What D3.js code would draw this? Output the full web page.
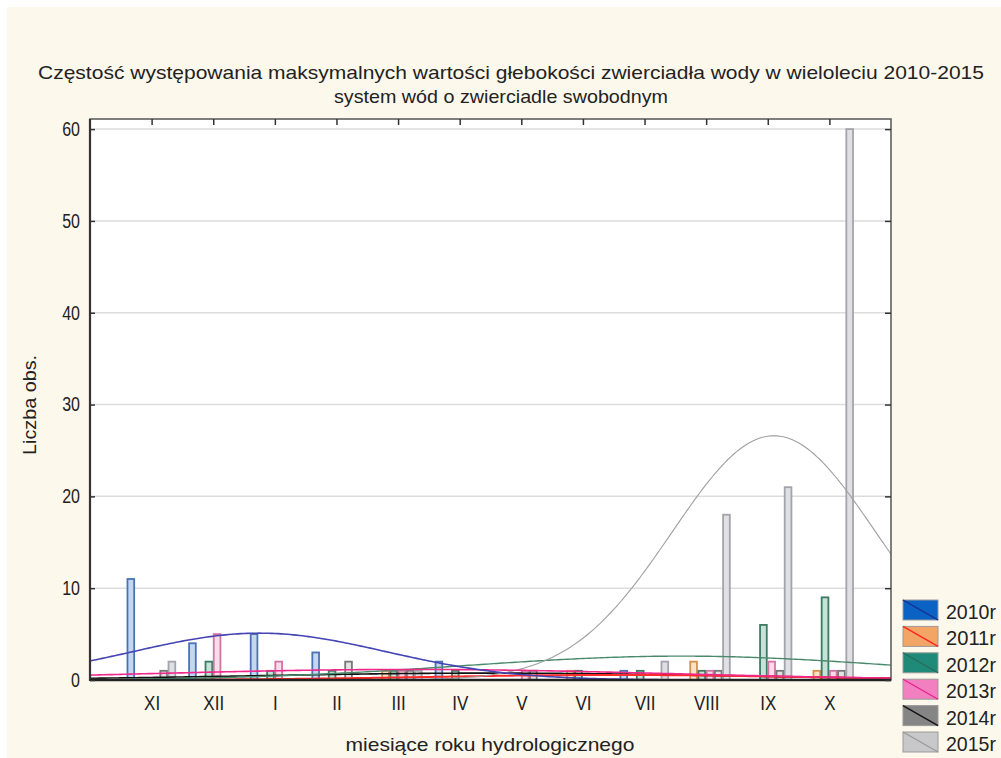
<!DOCTYPE html>
<html>
<head>
<meta charset="utf-8">
<script src="https://cdn.jsdelivr.net/npm/d3@7"></script>
<style>
  body { margin: 0; background: #fff; }
  svg text { font-family: "Liberation Sans Narrow", "Arial Narrow", "Liberation Sans", sans-serif; fill: #222; }
</style>
</head>
<body>
<svg width="1001" height="758"></svg>
<script>
// months of the hydrological year
const months = ['XI', 'XII', 'I', 'II', 'III', 'IV', 'V', 'VI', 'VII', 'VIII', 'IX', 'X'];
const years = ['2010r', '2011r', '2012r', '2013r', '2014r', '2015r'];

// counts per month
const counts2010 = [11, 4, 5, 3, 0, 2, 0, 0, 1, 0, 0, 0];
const counts2011 = [0, 0, 0, 0, 1, 0, 0, 1, 0, 2, 0, 1];
const counts2012 = [0, 2, 1, 1, 1, 1, 0, 1, 1, 1, 6, 9];
const counts2013 = [0, 5, 2, 0, 1, 0, 1, 0, 0, 1, 2, 1];
const counts2014 = [1, 0, 0, 2, 1, 0, 1, 0, 0, 1, 1, 1];
const counts2015 = [2, 0, 0, 0, 1, 0, 0, 0, 2, 18, 21, 60];

// fitted normal curves: centre (month no., XI = 1), spread, peak height
const fitMean = [2.75, 8.5, 9.6, 5.2, 6.5, 11.1];
const fitSd = [2.05, 3.0, 3.5, 4.2, 3.9, 1.65];
const fitPeak = [5.1, 0.55, 2.6, 1.15, 0.75, 26.6];

const yTicks = [0, 10, 20, 30, 40, 50, 60];

const barFill = ['#c5d6f0', '#fbe3c9', '#c6e2d9', '#fadcea', '#e2e2e2', '#dfdfe4'];
const barStroke = ['#4b72b6', '#d6904e', '#3f7a62', '#d375a3', '#777777', '#a4a4ac'];
const curveColor = ['#4444b4', '#ff2a2a', '#4a8a6c', '#f0288c', '#111111', '#a0a0a0'];
const curveWidth = [1.6, 2, 1.4, 1.6, 1.6, 1.1];
const legFill = ['#0a62c4', '#f3a566', '#1f8a78', '#f27fc0', '#858585', '#c8c8ca'];
const legLine = ['#1a2a8a', '#ff2020', '#2c6a5a', '#e8208c', '#111111', '#9a9a9a'];

const series = [counts2010, counts2011, counts2012, counts2013, counts2014, counts2015];

const svg = d3.select('svg');
const width = +svg.attr('width');
const height = +svg.attr('height');

// squeeze texts horizontally (no narrow font installed)
const condense = (sel, f) => sel.each(function () {
  const w = this.getComputedTextLength();
  d3.select(this).attr('textLength', w * f).attr('lengthAdjust', 'spacingAndGlyphs');
});

const plot = { left: 90, right: 891, top: 119, bottom: 680 };

svg.append('rect')
  .attr('x', 7).attr('y', 7)
  .attr('width', width - 7).attr('height', height - 7)
  .attr('fill', '#fdf8ec');

const xScale = d3.scaleLinear().domain([0, 13]).range([plot.left, plot.right]);
const yScale = d3.scaleLinear().domain([0, 61.1]).range([plot.bottom, plot.top]);

svg.append('rect')
  .attr('x', plot.left).attr('y', plot.top)
  .attr('width', plot.right - plot.left).attr('height', plot.bottom - plot.top)
  .attr('fill', '#fff');

// grid
svg.append('g').selectAll('line').data(yTicks.filter(d => d > 0))
  .enter().append('line')
  .attr('x1', plot.left).attr('x2', plot.right)
  .attr('y1', d => yScale(d)).attr('y2', d => yScale(d))
  .attr('stroke', '#dddddd').attr('stroke-width', 1.5);

// bars
const slot = 0.8 / 6;
svg.append('clipPath').attr('id', 'clip')
  .append('rect')
  .attr('x', plot.left).attr('y', plot.top)
  .attr('width', plot.right - plot.left).attr('height', plot.bottom - plot.top);

const barG = svg.append('g');
series.forEach((vals, k) => {
  barG.append('g').selectAll('rect')
    .data(vals.map((v, i) => ({ v, m: i + 1 })).filter(d => d.v > 0))
    .enter().append('rect')
    .attr('x', d => xScale(d.m - 0.4 + k * slot) + 0.5)
    .attr('width', xScale(slot) - xScale(0) - 1.5)
    .attr('y', d => yScale(d.v))
    .attr('height', d => yScale(0) - yScale(d.v))
    .attr('fill', barFill[k])
    .attr('stroke', barStroke[k])
    .attr('stroke-width', 1.8);
});

// fitted curves
const xs = d3.range(0, 13.001, 0.05);
const line = d3.line()
  .x(d => xScale(d[0]))
  .y(d => yScale(d[1]));
const curveG = svg.append('g').attr('clip-path', 'url(#clip)');
[4, 1, 2, 5, 3, 0].forEach(k => {
  const pts = xs.map(m => [m, fitPeak[k] * Math.exp(-((m - fitMean[k]) ** 2) / (2 * fitSd[k] ** 2))]);
  curveG.append('path')
    .attr('d', line(pts))
    .attr('fill', 'none')
    .attr('stroke', curveColor[k])
    .attr('stroke-width', curveWidth[k]);
});

// frame
svg.append('rect')
  .attr('x', plot.left).attr('y', plot.top)
  .attr('width', plot.right - plot.left).attr('height', plot.bottom - plot.top)
  .attr('fill', 'none').attr('stroke', '#555').attr('stroke-width', 1.5);
svg.append('line')
  .attr('x1', plot.left).attr('x2', plot.left)
  .attr('y1', plot.top).attr('y2', plot.bottom + 1)
  .attr('stroke', '#333').attr('stroke-width', 2.2);
svg.append('line')
  .attr('x1', plot.left).attr('x2', plot.right)
  .attr('y1', plot.bottom).attr('y2', plot.bottom)
  .attr('stroke', '#222').attr('stroke-width', 2.5);

// y axis
const yAxis = d3.axisLeft(yScale).tickValues(yTicks).tickSize(-5).tickPadding(10);
const yG = svg.append('g')
  .attr('transform', `translate(${plot.left},0)`)
  .call(yAxis);
yG.select('.domain').remove();
yG.selectAll('.tick line').attr('stroke', '#333').attr('stroke-width', 1.5);
yG.selectAll('.tick text').attr('font-size', 20).attr('fill', '#222')
  .call(condense, 0.8);

// right-side ticks
const yR = svg.append('g')
  .attr('transform', `translate(${plot.right},0)`)
  .call(d3.axisRight(yScale).tickValues(yTicks).tickSize(-6).tickFormat(''));
yR.select('.domain').remove();
yR.selectAll('.tick line').attr('stroke', '#333').attr('stroke-width', 1.5);

// x axis
const monthNo = months.map((d, i) => i + 1);
const xAxis = d3.axisBottom(xScale).tickValues(monthNo)
  .tickFormat((d, i) => months[i]).tickSize(0).tickPadding(16);
const xG = svg.append('g')
  .attr('transform', `translate(0,${plot.bottom})`)
  .call(xAxis);
xG.select('.domain').remove();
xG.selectAll('.tick text').attr('font-size', 20).attr('fill', '#222')
  .call(condense, 0.85);

const xTop = svg.append('g')
  .attr('transform', `translate(0,${plot.top})`)
  .call(d3.axisTop(xScale).tickValues(monthNo).tickSize(-6).tickFormat(''));
xTop.select('.domain').remove();
xTop.selectAll('.tick line').attr('stroke', '#333').attr('stroke-width', 1.5);

// titles
svg.append('text')
  .attr('x', 511).attr('y', 79)
  .attr('text-anchor', 'middle')
  .attr('font-size', 19)
  .attr('textLength', 946).attr('lengthAdjust', 'spacingAndGlyphs')
  .text('Częstość występowania maksymalnych wartości głebokości zwierciadła wody w wieloleciu 2010-2015');
svg.append('text')
  .attr('x', 501).attr('y', 103)
  .attr('text-anchor', 'middle')
  .attr('font-size', 19)
  .attr('textLength', 334).attr('lengthAdjust', 'spacingAndGlyphs')
  .text('system wód o zwierciadle swobodnym');

svg.append('text')
  .attr('transform', 'translate(36,405) rotate(-90)')
  .attr('text-anchor', 'middle')
  .attr('font-size', 19)
  .attr('textLength', 100).attr('lengthAdjust', 'spacingAndGlyphs')
  .text('Liczba obs.');

svg.append('text')
  .attr('x', 490).attr('y', 751)
  .attr('text-anchor', 'middle')
  .attr('font-size', 19)
  .attr('textLength', 289).attr('lengthAdjust', 'spacingAndGlyphs')
  .text('miesiące roku hydrologicznego');

// legend
const leg = svg.append('g').selectAll('g').data(years)
  .enter().append('g')
  .attr('transform', (d, i) => `translate(903,${600 + i * 26.4})`);
leg.append('rect')
  .attr('width', 35).attr('height', 20)
  .attr('fill', (d, i) => legFill[i])
  .attr('stroke', '#9a9a9a').attr('stroke-width', 1);
leg.append('line')
  .attr('x1', 0).attr('y1', 0).attr('x2', 35).attr('y2', 20)
  .attr('stroke', (d, i) => legLine[i]).attr('stroke-width', 1.3);
leg.append('text')
  .attr('x', 43).attr('y', 19)
  .attr('font-size', 21)
  .attr('textLength', 50).attr('lengthAdjust', 'spacingAndGlyphs')
  .text(d => d);
</script>
</body>
</html>
